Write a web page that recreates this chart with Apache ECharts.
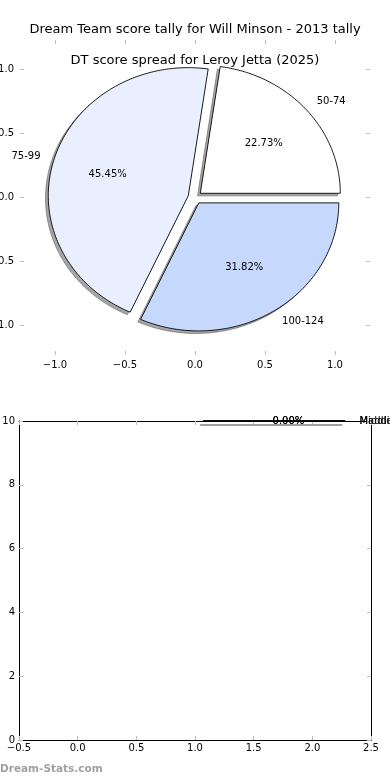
<!DOCTYPE html>
<html><head><meta charset="utf-8">
<script src="https://cdn.jsdelivr.net/npm/echarts@6/dist/echarts.min.js"></script>
<style>html,body{margin:0;padding:0;background:#fff}#c{width:390px;height:780px}</style>
</head><body><div id="c"></div>
<script>
// ---- data ----
const pieCategories = ['50-74', '75-99', '100-124'];
const pieCounts = [5, 10, 7];
const pieColors = ['#ffffff', '#e9effe', '#c6d9fd'];
const pieExplode = [0.05, 0.05, 0.05];
const pieTicks = [-1, -0.5, 0, 0.5, 1];
const emptyCategories = ['Middle', 'Maddie'];
const emptyCounts = [0, 0];
const emptyPieCenter = [1.07, 10];
const emptyPieRadius = 1.21;
const bottomXTicks = [-0.5, 0, 0.5, 1, 1.5, 2, 2.5];
const bottomYTicks = [0, 2, 4, 6, 8, 10];
const title1 = 'Dream Team score tally for Will Minson - 2013 tally';
const title2 = 'DT score spread for Leroy Jetta (2025)';
const watermark = 'Dream-Stats.com';

const FONT = 'DejaVu Sans';
const TICK = '#bdbdbd';
const fmt = v => (v < 0 ? '\u2212' : '') + Math.abs(v).toFixed(1);

function geom(counts, explode, i) {
  const total = counts.reduce((a, b) => a + b, 0);
  let acc = 0; for (let k = 0; k < i; k++) acc += counts[k];
  const a0 = total > 0 ? acc / total * 2 * Math.PI : 0;
  const a1 = total > 0 ? (acc + counts[i]) / total * 2 * Math.PI : 0;
  const am = (a0 + a1) / 2;
  const e = explode ? explode[i] : 0;
  return { a0, a1, am, cx: e * Math.cos(am), cy: e * Math.sin(am), pct: total > 0 ? counts[i] / total * 100 : 0 };
}
function wedgePts(api, g, ox, oy) {
  const pts = [api.coord([g.cx + ox, g.cy + oy])];
  const n = Math.max(2, Math.ceil((g.a1 - g.a0) / 0.015));
  for (let k = 0; k <= n; k++) {
    const a = g.a0 + (g.a1 - g.a0) * k / n;
    pts.push(api.coord([g.cx + ox + Math.cos(a), g.cy + oy + Math.sin(a)]));
  }
  return pts;
}

const chart = echarts.init(document.getElementById('c'), null, { renderer: 'canvas' });

const tickCommon = { inside: true, length: 4, lineStyle: { color: TICK, width: 1 } };
const lblCommon = { color: '#000', fontSize: 10, fontFamily: FONT };

chart.setOption({
  animation: false,
  backgroundColor: '#fff',
  title: [
    { text: title1, left: 'center', top: 23, padding: 0, textStyle: { fontSize: 13, fontWeight: 'normal', color: '#000', fontFamily: FONT } },
    { text: title2, left: 'center', top: 54, padding: 0, textStyle: { fontSize: 13, fontWeight: 'normal', color: '#000', fontFamily: FONT } }
  ],
  graphic: [{ type: 'text', left: 0, top: 764, style: { text: watermark, fill: '#a0a0a0', font: 'bold 10.5px "DejaVu Sans"' } }],
  grid: [
    { left: 20, right: 20, top: 40, bottom: 425, containLabel: false, outerBoundsMode: 'none' },
    { left: 19, right: 19, top: 421, bottom: 40, containLabel: false, outerBoundsMode: 'none' }
  ],
  xAxis: [
    { gridIndex: 0, type: 'value', min: -1.25, max: 1.25, position: 'bottom',
      axisLine: { show: false, onZero: false }, splitLine: { show: false },
      axisTick: Object.assign({ customValues: pieTicks }, tickCommon),
      axisLabel: Object.assign({ customValues: pieTicks, formatter: fmt, margin: 5 }, lblCommon) },
    { gridIndex: 0, type: 'value', min: -1.25, max: 1.25, position: 'top',
      axisLine: { show: false, onZero: false }, splitLine: { show: false },
      axisTick: Object.assign({ customValues: pieTicks }, tickCommon),
      axisLabel: { show: false } },
    { gridIndex: 1, type: 'value', min: -0.5, max: 2.5, interval: 0.5, position: 'bottom',
      axisLine: { show: true, onZero: false, lineStyle: { color: '#000', width: 1 } }, splitLine: { show: false },
      axisTick: tickCommon,
      axisLabel: Object.assign({ formatter: fmt, margin: 3 }, lblCommon) },
    { gridIndex: 1, type: 'value', min: -0.5, max: 2.5, interval: 0.5, position: 'top',
      axisLine: { show: true, onZero: false, lineStyle: { color: '#000', width: 1 } }, splitLine: { show: false },
      axisTick: tickCommon, axisLabel: { show: false } }
  ],
  yAxis: [
    { gridIndex: 0, type: 'value', min: -1.23, max: 1.23, position: 'left',
      axisLine: { show: false, onZero: false }, splitLine: { show: false },
      axisTick: Object.assign({ customValues: pieTicks }, tickCommon),
      axisLabel: Object.assign({ customValues: pieTicks, formatter: fmt, margin: 6 }, lblCommon) },
    { gridIndex: 0, type: 'value', min: -1.23, max: 1.23, position: 'right',
      axisLine: { show: false, onZero: false }, splitLine: { show: false },
      axisTick: Object.assign({ customValues: pieTicks }, tickCommon),
      axisLabel: { show: false } },
    { gridIndex: 1, type: 'value', min: 0, max: 10, interval: 2, position: 'left',
      axisLine: { show: true, onZero: false, lineStyle: { color: '#000', width: 1 } }, splitLine: { show: false },
      axisTick: tickCommon,
      axisLabel: Object.assign({ formatter: v => String(v), margin: 4 }, lblCommon) },
    { gridIndex: 1, type: 'value', min: 0, max: 10, interval: 2, position: 'right',
      axisLine: { show: true, onZero: false, lineStyle: { color: '#000', width: 1 } }, splitLine: { show: false },
      axisTick: tickCommon, axisLabel: { show: false } }
  ],
  series: [
    // shadows of the pie wedges
    { type: 'custom', xAxisIndex: 0, yAxisIndex: 0, z: 1, silent: true,
      data: pieCounts.map((v, i) => ({ name: pieCategories[i], value: [0, 0, v] })),
      renderItem: (params, api) => {
        const g = geom(pieCounts, pieExplode, params.dataIndex);
        return { type: 'polygon', shape: { points: wedgePts(api, g, -0.02, -0.02) },
          style: { fill: 'rgba(77,77,77,0.5)', stroke: 'rgba(77,77,77,0.5)', lineWidth: 1 } };
      } },
    // pie wedges with labels
    { type: 'custom', xAxisIndex: 0, yAxisIndex: 0, z: 2, silent: true,
      data: pieCounts.map((v, i) => ({ name: pieCategories[i], value: [0, 0, v] })),
      renderItem: (params, api) => {
        const i = params.dataIndex;
        const g = geom(pieCounts, pieExplode, i);
        const lp = api.coord([g.cx + 1.1 * Math.cos(g.am), g.cy + 1.1 * Math.sin(g.am)]);
        const pp = api.coord([g.cx + 0.6 * Math.cos(g.am), g.cy + 0.6 * Math.sin(g.am)]);
        return { type: 'group', children: [
          { type: 'polygon', shape: { points: wedgePts(api, g, 0, 0) },
            style: { fill: pieColors[i], stroke: '#000', lineWidth: 0.9 } },
          { type: 'text', x: lp[0], y: lp[1], style: { text: pieCategories[i], fill: '#000', font: '10px "DejaVu Sans"',
            align: Math.cos(g.am) > 0 ? 'left' : 'right', verticalAlign: 'middle' } },
          { type: 'text', x: pp[0], y: pp[1], style: { text: g.pct.toFixed(2) + '%', fill: '#000', font: '10px "DejaVu Sans"',
            align: 'center', verticalAlign: 'middle' } }
        ] };
      } },
    // degenerate (all-zero) pie on the lower axes
    { type: 'custom', xAxisIndex: 2, yAxisIndex: 2, z: 3, silent: true, clip: false,
      data: emptyCounts.map((v, i) => ({ name: emptyCategories[i], value: [emptyPieCenter[0], emptyPieCenter[1], v] })),
      renderItem: (params, api) => {
        const i = params.dataIndex;
        const g = geom(emptyCounts, null, i);
        const cx = emptyPieCenter[0], cy = emptyPieCenter[1], r = emptyPieRadius;
        const c = api.coord([cx, cy]);
        const e = api.coord([cx + r * Math.cos(g.a0), cy + r * Math.sin(g.a0)]);
        const lp = api.coord([cx + 1.1 * r * Math.cos(g.am), cy + 1.1 * r * Math.sin(g.am)]);
        const pp = api.coord([cx + 0.6 * r * Math.cos(g.am), cy + 0.6 * r * Math.sin(g.am)]);
        return { type: 'group', children: [
          { type: 'line', shape: { x1: c[0] - 3, y1: c[1] + 4, x2: e[0] - 3, y2: e[1] + 4 },
            style: { stroke: '#9a9a9a', lineWidth: 1.5 } },
          { type: 'line', shape: { x1: c[0], y1: c[1], x2: e[0], y2: e[1] }, style: { stroke: '#000', lineWidth: 1.6 } },
          { type: 'text', x: lp[0], y: lp[1], style: { text: emptyCategories[i], fill: '#000', font: '10px "DejaVu Sans"',
            align: 'left', verticalAlign: 'middle' } },
          { type: 'text', x: pp[0], y: pp[1], style: { text: g.pct.toFixed(2) + '%', fill: '#000', font: '10px "DejaVu Sans"',
            align: 'center', verticalAlign: 'middle' } }
        ] };
      } }
  ]
});
</script>
</body></html>
